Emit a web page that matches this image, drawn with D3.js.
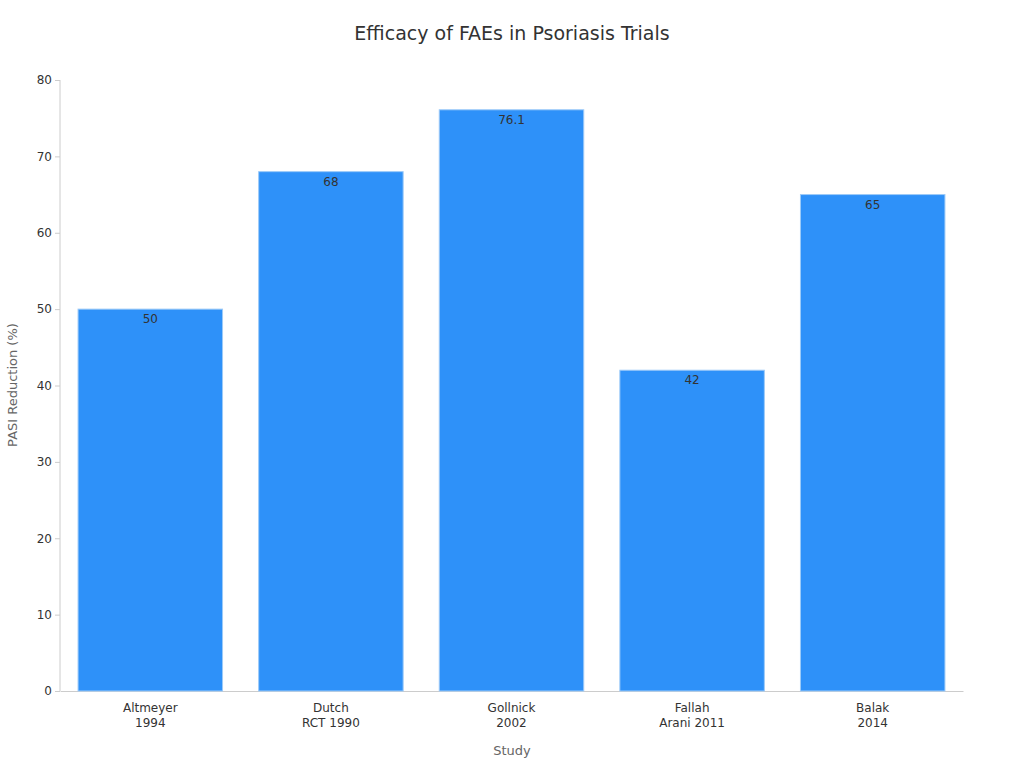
<!DOCTYPE html><html><head><meta charset="utf-8"><script src="https://cdn.jsdelivr.net/npm/d3@7"></script>
<style>body{margin:0;background:#fff}text{font-family:"DejaVu Sans",sans-serif}</style></head><body><svg id="c" width="1024" height="768"></svg><script>
const categories=[["Altmeyer","1994"],["Dutch","RCT 1990"],["Gollnick","2002"],["Fallah","Arani 2011"],["Balak","2014"]];
const values=[50,68,76.1,42,65];
const ticks=[0,10,20,30,40,50,60,70,80];
const svg=d3.select("#c");
const m={l:60,r:963,t:80,b:691};
const x=d3.scaleBand().domain(categories.map((d,i)=>i)).range([m.l,m.r]).paddingInner(0.2).paddingOuter(0.1);
const y=d3.scaleLinear().domain([0,80]).range([m.b,m.t]);
svg.append("text").attr("x",512).attr("y",40).attr("text-anchor","middle").attr("font-size",19).attr("fill","#333").text("Efficacy of FAEs in Psoriasis Trials");
const ya=svg.append("g").attr("transform",`translate(${m.l},0)`).call(d3.axisLeft(y).tickValues(ticks).tickSize(5).tickPadding(3));
ya.selectAll("text").attr("font-size",12).attr("fill","#333");
ya.selectAll("line,path").attr("stroke","#ccc");
ya.select("path").attr("d",`M0,${m.b}V${m.t}`);
const xa=svg.append("g").attr("transform",`translate(0,${m.b})`).call(d3.axisBottom(x).tickSize(0).tickFormat(""));
xa.select("path").attr("stroke","#ccc");
categories.forEach((c,i)=>{const t=svg.append("text").attr("x",x(i)+x.bandwidth()/2).attr("y",712).attr("text-anchor","middle").attr("font-size",12).attr("fill","#333");
c.forEach((s,j)=>t.append("tspan").attr("x",x(i)+x.bandwidth()/2).attr("dy",j?15:0).text(s));});
svg.selectAll("rect.b").data(values).join("rect").attr("x",(d,i)=>x(i)).attr("width",x.bandwidth()).attr("y",d=>y(d)).attr("height",d=>m.b-y(d)).attr("fill","#2e91f9").attr("stroke","#9ccaf8").attr("stroke-width",1);
svg.selectAll("text.v").data(values).join("text").attr("x",(d,i)=>x(i)+x.bandwidth()/2).attr("y",d=>y(d)+14).attr("text-anchor","middle").attr("font-size",12).attr("fill","#333").text(d=>d);
svg.append("text").attr("x",512).attr("y",755).attr("text-anchor","middle").attr("font-size",13).attr("fill","#666").text("Study");
svg.append("text").attr("transform","translate(17,385) rotate(-90)").attr("text-anchor","middle").attr("font-size",13).attr("fill","#666").text("PASI Reduction (%)");
</script></body></html>
